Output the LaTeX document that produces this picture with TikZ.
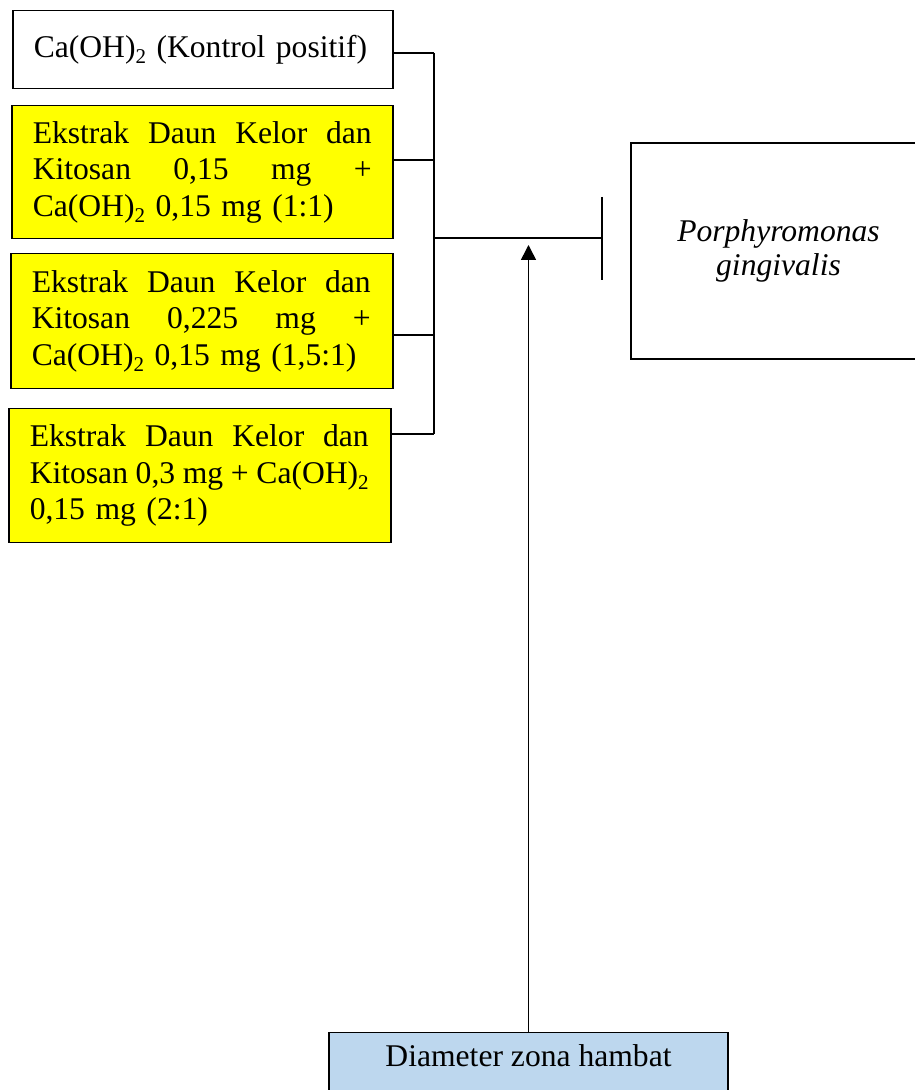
\documentclass[tikz,border=0pt]{standalone}
\usepackage{fontspec}
\setmainfont{Liberation Serif}
\usetikzlibrary{arrows.meta}
\definecolor{boxyellow}{HTML}{FFFF00}
\definecolor{boxblue}{HTML}{BDD7EE}
\newcommand{\subtwo}{\raisebox{-0.2em}{\fontsize{21}{21}\selectfont 2}}
\newcommand{\fullline}[1]{\leavevmode\hbox to 339pt{#1}}
\begin{document}
\begin{tikzpicture}[x=1pt,y=1pt,
  every node/.style={font=\fontsize{31.6}{36.5}\selectfont},
  treat/.style={draw, line width=1.5pt, anchor=north west, align=left, inner xsep=21pt, inner ysep=0pt},
  conn/.style={line width=1.5pt}]
\clip (0,0) rectangle (915,1090);
\useasboundingbox (0,0) rectangle (915,1090);

\node[treat, fill=white, text width=338pt, minimum height=78pt] (b1) at (12,1080)
  {Ca(OH)\subtwo{} (Kontrol positif)};
\node[treat, fill=boxyellow, text width=339pt, minimum height=133pt] (b2) at (11,985)
  {\fullline{Ekstrak\hfill Daun\hfill Kelor\hfill dan}\\\fullline{Kitosan\hfill 0,15\hfill mg\hfill +}\\Ca(OH)\subtwo{} 0,15 mg (1:1)};
\node[treat, fill=boxyellow, text width=340pt, minimum height=135pt] (b3) at (10,837)
  {\fullline{Ekstrak\hfill Daun\hfill Kelor\hfill dan}\\\fullline{Kitosan\hfill 0,225\hfill mg\hfill +}\\Ca(OH)\subtwo{} 0,15 mg (1,5:1)};
\node[treat, fill=boxyellow, text width=340pt, minimum height=134pt] (b4) at (8,682)
  {\fullline{Ekstrak\hfill Daun\hfill Kelor\hfill dan}\\\fullline{Kitosan\hfill 0,3\hfill mg\hfill +\hfill Ca(OH)\subtwo}\\0,15 mg (2:1)};

\node[draw, line width=1.5pt, minimum width=295pt, minimum height=216pt, align=center,
  font=\fontsize{31.6}{34}\selectfont\itshape] (pg) at (778.5,839)
  {Porphyromonas\\gingivalis};

\node[draw, line width=1.5pt, fill=boxblue, anchor=north, minimum width=399pt,
  inner ysep=12pt, text height=22pt, text depth=50pt] (dz) at (528.5,58)
  {Diameter zona hambat};

\coordinate (bus1) at (434,1037);
\coordinate (bus2) at (434,930);
\coordinate (bus3) at (434,755);
\coordinate (bus4) at (434,656);
\coordinate (busmid) at (434,852);
\coordinate (barmid) at (602,852);
\coordinate (bartop) at (602,893);
\coordinate (barbot) at (602,810);
\coordinate (tip) at (528.5,845);

\draw[conn] (b1.east |- bus1) -- (bus1);
\draw[conn] (b2.east |- bus2) -- (bus2);
\draw[conn] (b3.east |- bus3) -- (bus3);
\draw[conn] (b4.east |- bus4) -- (bus4);
\draw[conn] (bus1) -- (bus4);
\draw[conn] (busmid) -- (barmid);
\draw[conn] (bartop) -- (barbot);
\draw[conn, -{Triangle[length=15pt,width=15pt]}] (dz.north) -- (tip);
\end{tikzpicture}
\end{document}
